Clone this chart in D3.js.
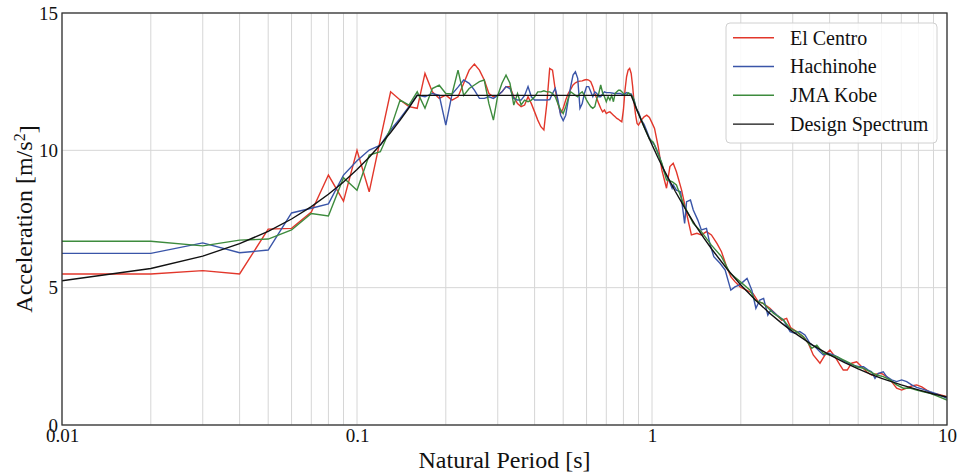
<!DOCTYPE html>
<meta charset="utf-8">
<script src="https://d3js.org/d3.v7.min.js"></script>
<style>
  body { margin: 0; background: #fff; }
  text { font-family: "Liberation Serif", "Times New Roman", serif; fill: #111; }
</style>
<div id="my_dataviz"></div>
<script>

// periods [s] and response acceleration [m/s2]
var elCentro = [
  [0.01,5.5],[0.02,5.5],[0.03,5.62],[0.04,5.5],[0.05,7.13],[0.06,7.16],[0.07,7.75],[0.08,9.1],[0.09,8.15],[0.1,10.0],
  [0.11,8.49],[0.12,10.4],[0.13,12.13],[0.14,11.83],[0.15,11.59],[0.16,11.53],[0.17,12.8],[0.18,12.13],[0.19,11.89],[0.2,12.01],
  [0.21,11.83],[0.22,11.95],[0.23,12.44],[0.24,12.92],[0.25,13.14],[0.26,12.92],[0.27,12.56],[0.28,12.07],[0.29,11.95],[0.3,12.0],
  [0.31,12.13],[0.32,12.32],[0.33,12.32],[0.34,11.95],[0.35,11.7],[0.36,11.59],[0.37,11.65],[0.38,11.95],[0.39,11.7],[0.4,11.4],
  [0.41,11.1],[0.42,10.86],[0.43,10.74],[0.44,11.7],[0.45,12.98],[0.46,12.92],[0.47,12.2],[0.48,11.7],[0.49,11.35],[0.5,11.53],
  [0.51,11.83],[0.52,12.07],[0.53,12.22],[0.54,12.38],[0.55,12.46],[0.56,12.5],[0.57,12.52],[0.58,12.53],[0.59,12.56],[0.6,12.58],
  [0.61,12.56],[0.62,12.5],[0.63,12.32],[0.64,12.07],[0.65,11.89],[0.66,11.7],[0.67,11.53],[0.68,11.4],[0.69,11.47],[0.7,11.34],
  [0.71,11.38],[0.72,11.4],[0.73,11.34],[0.74,11.28],[0.75,11.22],[0.76,11.16],[0.77,11.13],[0.78,11.08],[0.79,11.04],[0.8,11.47],
  [0.81,12.19],[0.82,12.68],[0.83,12.92],[0.84,12.98],[0.85,12.8],[0.86,12.32],[0.87,11.7],[0.88,11.28],[0.89,10.98],[0.9,10.92],
  [0.92,11.1],[0.94,11.22],[0.96,11.28],[0.98,11.2],[1.0,11.0],[1.02,10.8],[1.05,10.13],[1.08,9.28],[1.12,8.62],[1.15,9.41],
  [1.18,9.53],[1.21,9.22],[1.26,8.55],[1.31,7.7],[1.36,6.92],[1.42,6.98],[1.47,6.92],[1.53,7.04],[1.59,6.92],[1.66,6.61],
  [1.72,6.31],[1.79,5.76],[1.85,5.4],[1.91,5.22],[1.99,5.03],[2.09,4.91],[2.2,4.79],[2.29,4.49],[2.38,4.43],[2.51,4.25],
  [2.65,4.0],[2.75,3.82],[2.86,3.88],[2.95,3.55],[3.09,3.4],[3.26,3.21],[3.39,2.97],[3.52,2.55],[3.71,2.25],[3.86,2.55],
  [4.01,2.73],[4.17,2.49],[4.34,2.18],[4.45,2.0],[4.59,2.0],[4.75,2.25],[4.94,2.3],[5.14,2.12],[5.34,1.94],[5.55,1.82],
  [5.78,1.86],[6.0,1.88],[6.24,1.76],[6.49,1.58],[6.75,1.34],[7.02,1.27],[7.3,1.34],[7.59,1.42],[7.89,1.46],[8.21,1.39],
  [8.53,1.27],[8.87,1.15],[9.23,1.13],[9.59,1.09],[10,1.03]
];

var hachinohe = [
  [0.01,6.25],[0.02,6.25],[0.03,6.63],[0.04,6.27],[0.05,6.37],[0.06,7.72],[0.07,7.89],[0.08,8.05],[0.09,9.1],[0.1,9.62],
  [0.11,10.01],[0.12,10.19],[0.13,10.74],[0.14,11.16],[0.15,11.59],[0.16,12.01],[0.17,11.95],[0.18,12.07],[0.19,12.0],[0.2,10.92],
  [0.21,12.05],[0.22,12.3],[0.23,12.56],[0.24,12.44],[0.25,12.19],[0.26,11.89],[0.27,11.89],[0.28,11.95],[0.29,11.89],[0.3,12.0],
  [0.31,12.13],[0.32,12.32],[0.33,12.25],[0.34,11.89],[0.35,11.83],[0.36,11.83],[0.37,12.0],[0.38,12.32],[0.39,11.95],[0.4,11.83],
  [0.41,11.83],[0.42,11.83],[0.43,11.83],[0.44,11.83],[0.45,11.85],[0.46,12.07],[0.47,12.25],[0.48,11.83],[0.49,11.28],[0.5,11.08],
  [0.51,11.28],[0.52,11.83],[0.53,12.32],[0.54,12.74],[0.55,12.86],[0.56,12.62],[0.57,11.53],[0.58,11.7],[0.59,12.07],[0.6,12.32],
  [0.61,12.32],[0.62,12.13],[0.63,11.95],[0.64,12.13],[0.65,12.07],[0.66,11.95],[0.67,11.95],[0.68,12.05],[0.69,12.13],[0.7,12.1],
  [0.72,12.1],[0.74,12.08],[0.76,12.07],[0.78,12.07],[0.8,12.02],[0.82,12.1],[0.84,12.05],[0.85,12.05],[0.86,11.95],[0.87,11.83],
  [0.88,11.6],[0.89,11.45],[0.9,11.4],[0.92,11.1],[0.94,10.95],[0.96,10.7],[0.98,10.45],[1.0,10.3],[1.02,10.2],[1.04,10.0],
  [1.06,9.77],[1.1,9.22],[1.14,8.92],[1.17,8.62],[1.18,8.74],[1.21,8.55],[1.25,8.49],[1.29,7.34],[1.31,8.13],[1.35,8.19],
  [1.38,7.83],[1.43,7.46],[1.47,7.1],[1.53,7.16],[1.57,6.61],[1.62,6.13],[1.66,6.01],[1.7,5.89],[1.77,5.64],[1.85,4.91],
  [1.91,5.03],[1.98,5.1],[2.04,5.22],[2.1,5.34],[2.18,4.91],[2.25,4.25],[2.32,4.55],[2.39,4.61],[2.47,4.0],[2.53,4.19],
  [2.65,4.0],[2.79,3.82],[2.94,3.4],[3.05,3.34],[3.17,3.4],[3.3,3.28],[3.43,2.97],[3.57,2.85],[3.71,2.67],[3.81,2.55],
  [3.96,2.61],[4.12,2.55],[4.28,2.46],[4.45,2.34],[4.63,2.25],[4.82,2.18],[5.01,2.12],[5.21,2.12],[5.41,2.0],[5.55,1.94],
  [5.7,1.7],[5.85,1.88],[6.08,1.94],[6.24,1.76],[6.49,1.64],[6.75,1.58],[7.02,1.64],[7.3,1.58],[7.59,1.46],[7.89,1.37],
  [8.32,1.3],[8.76,1.21],[9.23,1.13],[10,0.97]
];

var jmaKobe = [
  [0.01,6.69],[0.02,6.69],[0.03,6.52],[0.04,6.73],[0.05,6.77],[0.06,7.1],[0.07,7.7],[0.08,7.61],[0.09,9.0],[0.1,8.55],
  [0.11,9.83],[0.12,9.95],[0.13,10.8],[0.14,11.83],[0.15,11.65],[0.16,12.13],[0.17,11.53],[0.18,12.25],[0.19,12.37],[0.2,12.07],
  [0.21,12.05],[0.22,12.92],[0.23,12.0],[0.24,12.25],[0.25,12.38],[0.26,12.5],[0.27,12.56],[0.28,11.7],[0.29,11.1],[0.3,12.0],
  [0.31,12.44],[0.32,12.74],[0.33,12.44],[0.34,11.65],[0.35,12.07],[0.36,11.65],[0.37,11.83],[0.38,11.77],[0.39,11.83],[0.4,11.95],
  [0.41,12.13],[0.42,12.13],[0.43,12.17],[0.44,12.13],[0.45,12.13],[0.46,12.07],[0.47,11.95],[0.48,11.7],[0.49,11.47],[0.5,11.34],
  [0.51,11.59],[0.52,11.89],[0.53,12.13],[0.54,12.07],[0.55,12.0],[0.56,11.95],[0.57,12.07],[0.58,12.13],[0.59,12.0],[0.6,11.83],
  [0.61,11.7],[0.62,11.59],[0.63,11.53],[0.64,11.59],[0.65,11.89],[0.66,12.07],[0.67,12.38],[0.68,12.1],[0.69,11.95],[0.7,11.77],
  [0.71,11.95],[0.72,11.83],[0.73,12.0],[0.74,11.77],[0.75,12.07],[0.76,12.13],[0.77,12.19],[0.78,12.19],[0.79,12.13],[0.8,12.07],
  [0.81,12.0],[0.82,12.0],[0.83,12.1],[0.84,12.07],[0.85,12.0],[0.86,11.95],[0.87,11.8],[0.88,11.6],[0.89,11.45],[0.9,11.33],
  [0.92,11.1],[0.94,10.85],[0.96,10.63],[0.98,10.41],[1.01,10.3],[1.08,9.53],[1.12,8.92],[1.17,8.86],[1.21,8.74],[1.29,7.95],
  [1.38,7.34],[1.47,7.04],[1.59,6.55],[1.72,6.13],[1.84,5.52],[1.99,5.22],[2.15,4.91],[2.23,4.55],[2.38,4.43],[2.58,4.07],
  [2.79,3.82],[2.94,3.52],[3.09,3.4],[3.26,3.21],[3.39,2.97],[3.48,2.79],[3.62,2.91],[3.81,2.61],[4.01,2.55],[4.23,2.49],
  [4.45,2.37],[4.69,2.25],[4.94,2.12],[5.21,2.06],[5.48,1.94],[5.78,1.82],[6.08,1.76],[6.41,1.64],[6.75,1.46],[7.11,1.34],
  [7.49,1.34],[7.89,1.27],[8.32,1.21],[8.76,1.15],[9.23,1.06],[10,0.91]
];

var designSpectrum = [
  [0.01,5.25],[0.02,5.7],[0.03,6.15],[0.04,6.6],[0.05,7.05],[0.06,7.5],[0.07,7.95],[0.08,8.4],[0.09,8.85],[0.1,9.3],
  [0.11,9.75],[0.12,10.2],[0.13,10.65],[0.14,11.1],[0.15,11.55],[0.16,12.0],[0.85,12.0],[0.9,11.33],[0.95,10.74],[1,10.2],
  [1.05,9.71],[1.1,9.27],[1.2,8.5],[1.3,7.85],[1.4,7.29],[1.5,6.8],[1.6,6.38],[1.8,5.67],[2,5.1],[2.25,4.53],
  [2.5,4.08],[2.75,3.71],[3,3.4],[3.5,2.91],[4,2.55],[4.5,2.27],[5,2.04],[5.5,1.85],[6,1.7],[7,1.46],
  [8,1.28],[9,1.13],[10,1.02]
];

var seriesNames = ["El Centro", "Hachinohe", "JMA Kobe", "Design Spectrum"];
var xTicks = [0.01, 0.1, 1, 10];
var yTicks = [0, 5, 10, 15];

var allSeries = [elCentro, hachinohe, jmaKobe, designSpectrum];
var colors = ["#e2372b", "#3a55a8", "#3d8b3d", "#111111"];

// set the dimensions and margins of the graph
var margin = {top: 13, right: 10, bottom: 50, left: 62},
    width = 957 - margin.left - margin.right,
    height = 475 - margin.top - margin.bottom;

var svg = d3.select("#my_dataviz")
  .append("svg")
    .attr("width", 957)
    .attr("height", 475)
  .append("g")
    .attr("transform", "translate(" + margin.left + "," + margin.top + ")");

var x = d3.scaleLog()
  .domain([0.01, 10])
  .range([0, width]);

var y = d3.scaleLinear()
  .domain([0, 15])
  .range([height, 0]);

// grid
svg.append("g")
  .selectAll("line")
  .data(x.ticks())
  .enter()
  .append("line")
    .attr("x1", function(d) { return x(d); })
    .attr("x2", function(d) { return x(d); })
    .attr("y1", 0)
    .attr("y2", height)
    .style("stroke", "#d6d6d6")
    .style("stroke-width", 1);

svg.append("g")
  .selectAll("line")
  .data(yTicks)
  .enter()
  .append("line")
    .attr("x1", 0)
    .attr("x2", width)
    .attr("y1", function(d) { return y(d); })
    .attr("y2", function(d) { return y(d); })
    .style("stroke", "#d6d6d6")
    .style("stroke-width", 1);

// Add X axis
var xAxis = svg.append("g")
  .attr("transform", "translate(0," + height + ")")
  .call(d3.axisBottom(x).tickValues(xTicks).tickSize(0).tickPadding(4)
    .tickFormat(function(d) { return String(d); }));
xAxis.select(".domain").remove();
xAxis.selectAll("text").style("font-size", "19px").style("font-family", "Liberation Serif");

// Add Y axis
var yAxis = svg.append("g")
  .call(d3.axisLeft(y).tickValues(yTicks).tickSize(0).tickPadding(4));
yAxis.select(".domain").remove();
yAxis.selectAll("text").style("font-size", "19px").style("font-family", "Liberation Serif");

// lines
svg.append("clipPath")
  .attr("id", "clip")
  .append("rect")
    .attr("width", width)
    .attr("height", height);

var line = d3.line()
  .x(function(d) { return x(d[0]); })
  .y(function(d) { return y(d[1]); });

svg.append("g")
  .attr("clip-path", "url(#clip)")
  .selectAll("path")
  .data(allSeries)
  .enter()
  .append("path")
    .attr("d", line)
    .style("fill", "none")
    .style("stroke", function(d, i) { return colors[i]; })
    .style("stroke-width", 1.4);

// frame
svg.append("rect")
  .attr("width", width)
  .attr("height", height)
  .style("fill", "none")
  .style("stroke", "#333")
  .style("stroke-width", 1.3);

// Add X axis label
svg.append("text")
  .attr("text-anchor", "middle")
  .attr("x", width / 2)
  .attr("y", height + 43)
  .style("font-size", "24px")
  .text("Natural Period [s]");

// Add Y axis label
var yLabel = svg.append("text")
  .attr("text-anchor", "middle")
  .attr("transform", "rotate(-90)")
  .attr("x", -height / 2)
  .attr("y", -margin.left + 32)
  .style("font-size", "24px");
yLabel.append("tspan").text("Acceleration [m/s");
yLabel.append("tspan").attr("dy", "-0.45em").style("font-size", "16px").text("2");
yLabel.append("tspan").attr("dy", "0.45em").text("]");

// Handmade legend
var legend = svg.append("g")
  .attr("transform", "translate(" + (width - 221) + ",10)");

legend.append("rect")
  .attr("width", 211)
  .attr("height", 120)
  .attr("rx", 4)
  .style("fill", "#fff")
  .style("fill-opacity", 0.85)
  .style("stroke", "#d0d0d0");

var rows = legend.selectAll("g.row")
  .data(seriesNames)
  .enter()
  .append("g")
    .attr("transform", function(d, i) { return "translate(0," + (14.7 + i * 28.8) + ")"; });

rows.append("line")
  .attr("x1", 7)
  .attr("x2", 48)
  .style("stroke", function(d, i) { return colors[i]; })
  .style("stroke-width", 1.4);

rows.append("text")
  .attr("x", 64)
  .attr("dy", "0.34em")
  .style("font-size", "20px")
  .text(function(d) { return d; });

</script>
